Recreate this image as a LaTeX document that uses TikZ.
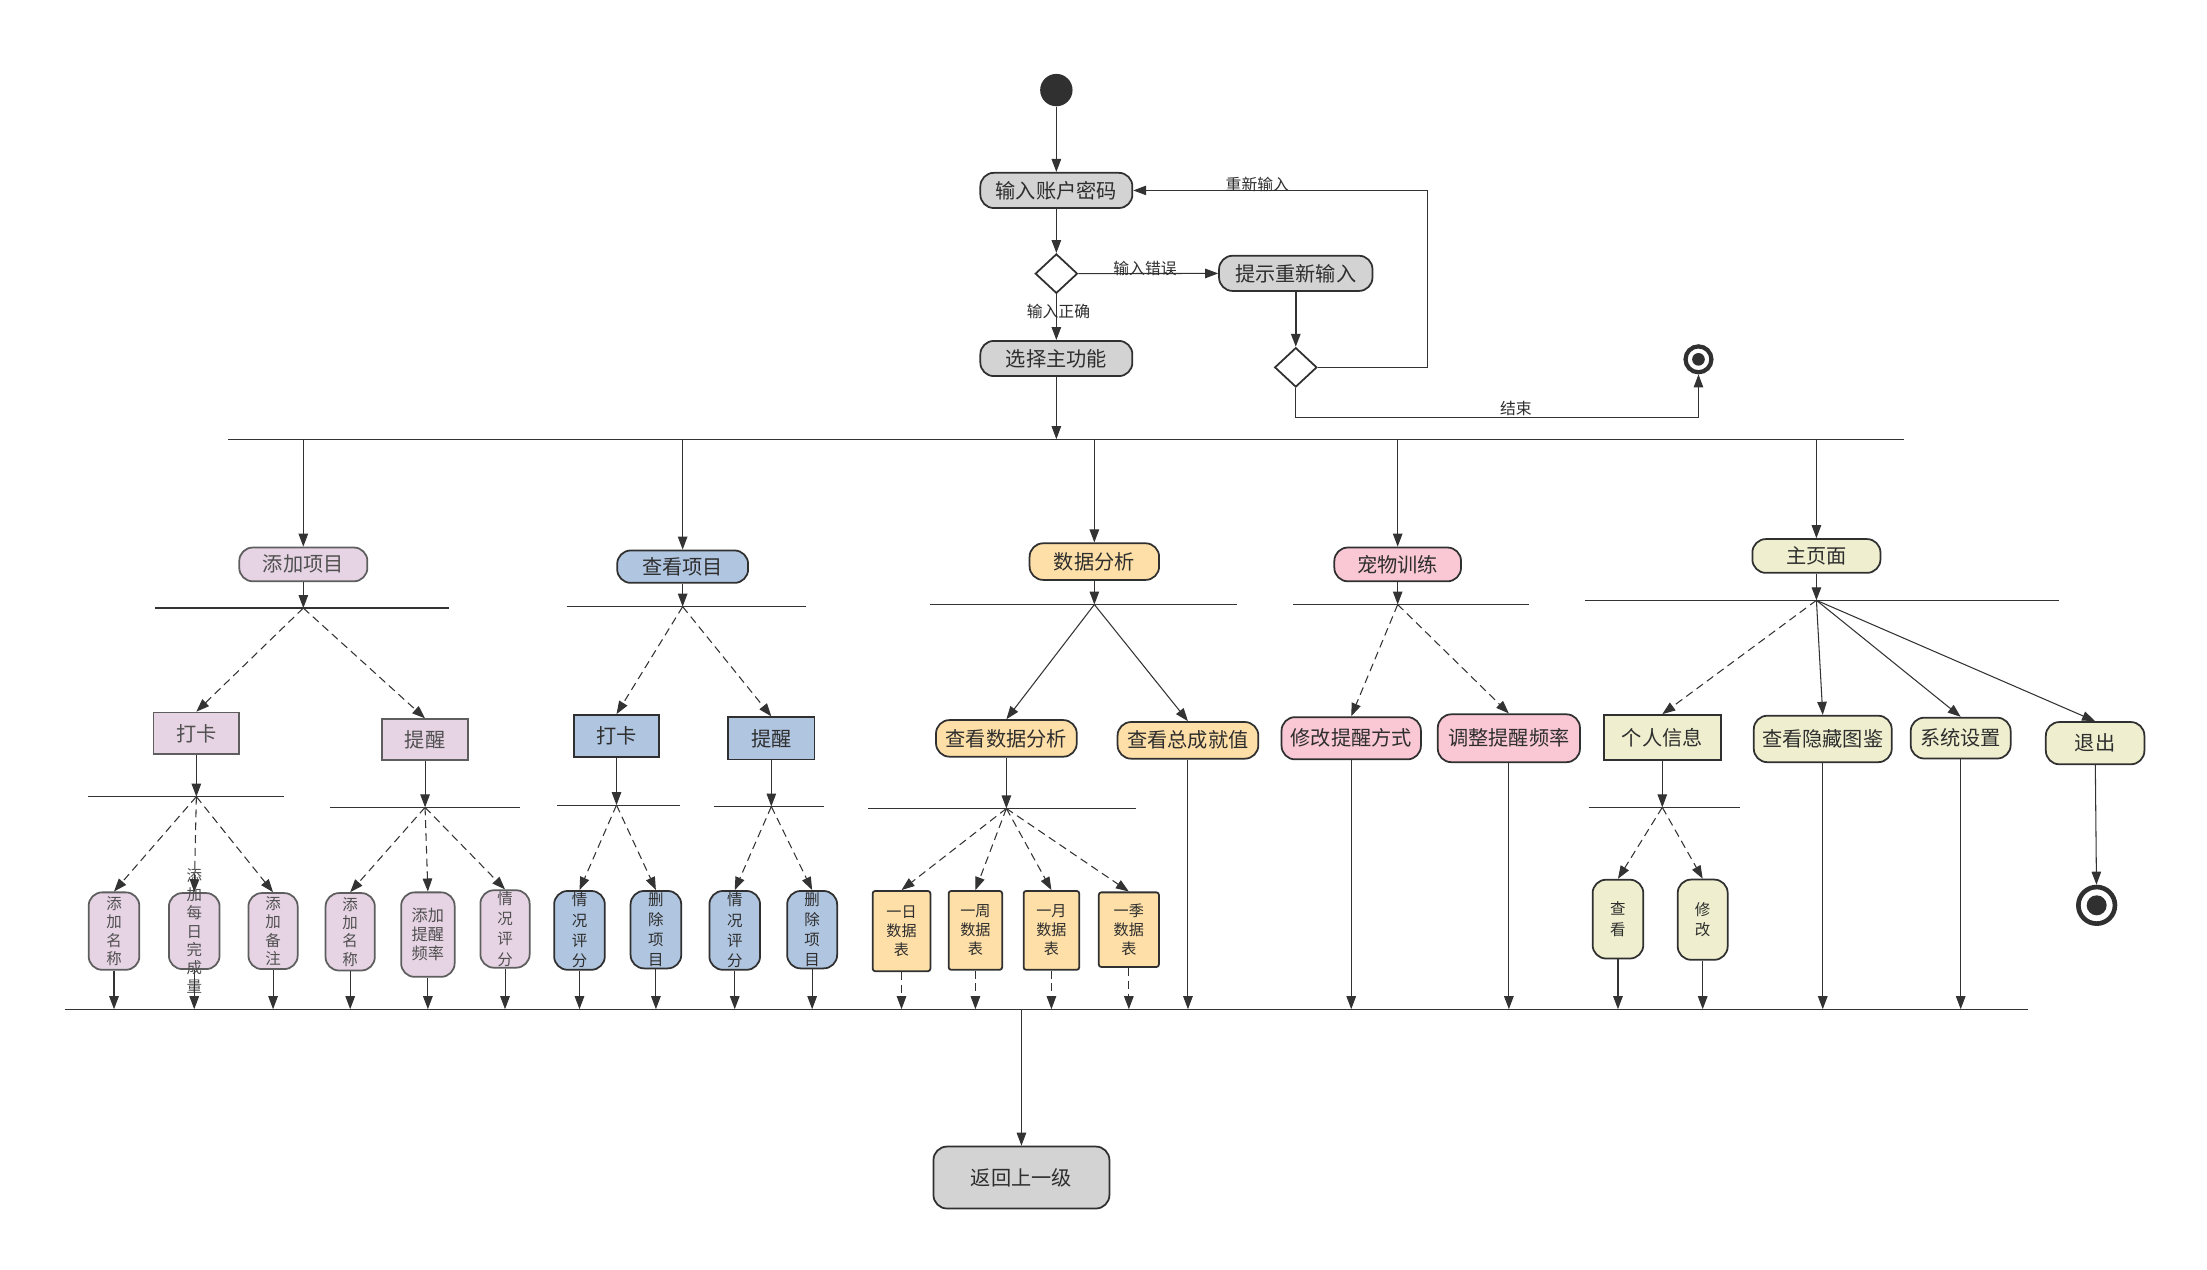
\documentclass[tikz,border=0pt]{standalone}
\usepackage{fontspec}
\setmainfont{Noto Sans CJK SC}
\usetikzlibrary{arrows.meta,shapes.geometric}
\definecolor{dk}{HTML}{303030}
\definecolor{ln}{HTML}{333333}
\definecolor{txt}{HTML}{2E2E2E}
\definecolor{txtl}{HTML}{505050}
\definecolor{grayf}{HTML}{D3D3D3}
\definecolor{lavf}{HTML}{E6D4E4}
\definecolor{lavd}{HTML}{5E5E5E}
\definecolor{bluef}{HTML}{B0C5E0}
\definecolor{orgf}{HTML}{FDDFA7}
\definecolor{pinkf}{HTML}{F9C8D4}
\definecolor{ygf}{HTML}{EFEFCF}
\newcommand\fA{\fontsize{11.5pt}{13pt}\selectfont}
\newcommand\fB{\fontsize{9pt}{10pt}\selectfont}
\newcommand\fV{\fontsize{8.8pt}{10.4pt}\selectfont}
\newcommand\fW{\fontsize{8.8pt}{11.5pt}\selectfont}
\newcommand\fT{\fontsize{8.6pt}{10.9pt}\selectfont}
\newcommand\fP{\fontsize{9.2pt}{11pt}\selectfont}
\begin{document}
\begin{tikzpicture}[x=0.02815cm,y=-0.02815cm,
  sz/.style 2 args={minimum width={#1*0.02815cm},minimum height={#2*0.02815cm}},
  base/.style={draw=dk,line width=1pt,text=txt,inner sep=0pt,align=center},
  pill/.style={base,rounded corners=0.27cm,font=\fA},
  rectbox/.style={base,font=\fA},
  leaf/.style={base,rounded corners=0.27cm,font=\fV},
  tbl/.style={base,rounded corners=0.05cm,font=\fT,fill=orgf},
  grayc/.style={fill=grayf},
  lav/.style={fill=lavf,draw=lavd,text=txtl},
  blu/.style={fill=bluef},
  org/.style={fill=orgf},
  pnk/.style={fill=pinkf},
  ygc/.style={fill=ygf},
  conn/.style={draw=ln,line width=0.6pt,-{Triangle[length=0.26cm,width=0.19cm]}},
  dconn/.style={conn,dash pattern=on 4.5pt off 2.8pt},
  bar/.style={draw=ln,line width=0.65pt},
  lbl/.style={font=\fB,text=txt,inner sep=0pt},
  dia/.style={diamond,draw=dk,fill=white,line width=1pt,inner sep=0pt,sz={30}{28}}
]
\path[use as bounding box,fill=white] (0,0) rectangle (1568,901.6);

% ---------- top part ----------
\node[circle,fill=dk,inner sep=0pt,minimum size={23*0.02815cm}] (start) at (750.5,64) {};
\node[pill,grayc,sz={108}{25}] (login) at (750.5,135.3) {输入账户密码};
\node[dia] (d1) at (750.5,194.4) {};
\node[pill,grayc,sz={109}{25}] (retry) at (920.6,194.2) {提示重新输入};
\node[pill,grayc,sz={108}{25}] (mainf) at (750.5,254.7) {选择主功能};
\node[dia] (d2) at (920.6,261) {};
\node[circle,draw=dk,line width={3*0.02815cm},inner sep=0pt,minimum size={18.4*0.02815cm}] (end1) at (1206.7,255.3) {};
\node[circle,fill=dk,inner sep=0pt,minimum size={9*0.02815cm}] (end1dot) at (end1.center) {};

\draw[conn] (start) -- (login);
\draw[conn] (login) -- (d1);
\draw[conn] (d1) -- (retry);
\node[lbl] (lerr) at (813.5,190.5) {输入错误};
\draw[conn] (d1) -- (mainf);
\node[lbl] (lok) at (752,221.5) {输入正确};
\draw[conn,line width=0.9pt] (retry) -- (d2);
\coordinate (loopc) at (1014.3,261);
\draw[conn] (d2.east) -- (loopc) |- (login.east);
\node[lbl] (lre) at (893.3,131.2) {重新输入};
\coordinate (endc) at (1206.7,296.5);
\draw[conn] (d2.south) |- (endc) -- (end1);
\node[lbl] (lend) at (1077,290.3) {结束};

% ---------- bar 1 ----------
\coordinate (bar1) at (750.5,312);
\draw[bar] (162,312) -- (1353,312);
\draw[conn] (mainf) -- (bar1);

\node[pill,lav,sz={91}{24}] (addp) at (215.5,401) {添加项目};
\node[pill,blu,sz={93}{23}] (viewp) at (485,402.6) {查看项目};
\node[pill,org,sz={92}{26}] (data) at (777.5,399) {数据分析};
\node[pill,pnk,sz={90}{24}] (pet) at (993,401) {宠物训练};
\node[pill,ygc,sz={91}{24}] (home) at (1290.5,395) {主页面};

\draw[conn] (addp |- bar1) -- (addp);
\draw[conn] (viewp |- bar1) -- (viewp);
\draw[conn] (data |- bar1) -- (data);
\draw[conn] (pet |- bar1) -- (pet);
\draw[conn] (home |- bar1) -- (home);

% ---------- second bars ----------
\coordinate (addpB) at (215.5,432);
\draw[bar] (110,432) -- (319,432);
\coordinate (viewpB) at (485,431);
\draw[bar] (402.6,431) -- (572.3,431);
\coordinate (dataB) at (777.5,429.5);
\draw[bar] (661,429.5) -- (879,429.5);
\coordinate (petB) at (993,429.5);
\draw[bar] (918.6,429.5) -- (1086,429.5);
\coordinate (homeB) at (1290.5,426.5);
\draw[bar] (1126,426.5) -- (1463,426.5);
\draw[conn] (addp) -- (addpB);
\draw[conn] (viewp) -- (viewpB);
\draw[conn] (data) -- (dataB);
\draw[conn] (pet) -- (petB);
\draw[conn] (home) -- (homeB);

% ---------- level 2 ----------
\node[rectbox,lav,sz={61}{29.5}] (dk1) at (139.5,521) {打卡};
\node[rectbox,lav,sz={61}{29}] (tx1) at (302,525.5) {提醒};
\node[rectbox,blu,sz={60.5}{30}] (dk2) at (438,523) {打卡};
\node[rectbox,blu,sz={61.5}{30}] (tx2) at (548,524.6) {提醒};
\node[pill,org,sz={100}{26}] (vda) at (715,524.6) {查看数据分析};
\node[pill,org,sz={100}{26}] (vach) at (844,526) {查看总成就值};
\node[pill,pnk,sz={99}{30}] (mrm) at (960,524.5) {修改提醒方式};
\node[pill,pnk,sz={101}{34}] (arf) at (1072,524.5) {调整提醒频率};
\node[rectbox,ygc,sz={83}{32}] (info) at (1181,524) {个人信息};
\node[pill,ygc,sz={98}{33}] (hid) at (1295,525) {查看隐藏图鉴};
\node[pill,ygc,sz={71}{29}] (sys) at (1393,524.4) {系统设置};
\node[pill,ygc,sz={70}{30}] (quit) at (1488.5,528) {退出};

\draw[dconn] (addpB) -- (dk1.north);
\draw[dconn] (addpB) -- (tx1.north);
\draw[dconn] (viewpB) -- (dk2.north);
\draw[dconn] (viewpB) -- (tx2.north);
\draw[conn] (dataB) -- (vda.north);
\draw[conn] (dataB) -- (vach.north);
\draw[dconn] (petB) -- (mrm.north);
\draw[dconn] (petB) -- (arf.north);
\draw[dconn] (homeB) -- (info.north);
\draw[conn] (homeB) -- (hid.north);
\draw[conn] (homeB) -- (sys.north);
\draw[conn] (homeB) -- (quit.north);

% ---------- third bars ----------
\coordinate (dk1B) at (139.5,566);
\draw[bar] (62.6,566) -- (202,566);
\coordinate (tx1B) at (302,573.6);
\draw[bar] (234.5,573.6) -- (369.3,573.6);
\coordinate (dk2B) at (438,572);
\draw[bar] (396,572) -- (483,572);
\coordinate (tx2B) at (548,573);
\draw[bar] (507,573) -- (585.5,573);
\coordinate (vdaB) at (715,574.4);
\draw[bar] (616.7,574.4) -- (807,574.4);
\coordinate (infoB) at (1181,573.6);
\draw[bar] (1128.7,573.6) -- (1236,573.6);
\draw[conn] (dk1) -- (dk1B);
\draw[conn] (tx1) -- (tx1B);
\draw[conn] (dk2) -- (dk2B);
\draw[conn] (tx2) -- (tx2B);
\draw[conn] (vda) -- (vdaB);
\draw[conn] (info) -- (infoB);

% ---------- leaves ----------
\node[leaf,lav,sz={36}{55}] (l1) at (81,661.5) {添\\加\\名\\称};
\node[leaf,lav,sz={36}{54}] (l2) at (138,661.5) {};
\node[font=\fontsize{8.8pt}{10.5pt}\selectfont,text=txtl,align=center,inner sep=0pt] (l2t) at (l2.center) {添\\加\\每\\日\\完\\成\\量};
\node[leaf,lav,sz={35}{54}] (l3) at (194,661.5) {添\\加\\备\\注};
\node[leaf,lav,sz={35}{55}] (l4) at (248.8,662) {添\\加\\名\\称};
\node[leaf,lav,sz={38}{60},font=\fP] (l5) at (304,664) {添加\\提醒\\频率};
\node[leaf,lav,sz={35}{55},font=\fW] (l6) at (358.8,660) {情\\况\\评\\分};
\node[leaf,blu,sz={36}{56},font=\fW] (l7) at (411.7,661) {情\\况\\评\\分};
\node[leaf,blu,sz={36}{55},font=\fW] (l8) at (466,660.5) {删\\除\\项\\目};
\node[leaf,blu,sz={36}{56},font=\fW] (l9) at (522,661) {情\\况\\评\\分};
\node[leaf,blu,sz={35.5}{55},font=\fW] (l10) at (577,660.5) {删\\除\\项\\目};
\node[tbl,sz={41}{57}] (t1) at (640.5,661.5) {一日\\数据\\表};
\node[tbl,sz={38}{56}] (t2) at (693,661) {一周\\数据\\表};
\node[tbl,sz={39.5}{56}] (t3) at (747,661) {一月\\数据\\表};
\node[tbl,sz={42.7}{53}] (t4) at (802,660.5) {一季\\数据\\表};
\node[leaf,ygc,sz={36}{56},font=\fW] (q1) at (1149.5,653) {查\\看};
\node[leaf,ygc,sz={35.5}{57},font=\fW] (q2) at (1209.7,653.4) {修\\改};

\draw[dconn] (dk1B) -- (l1.north);
\draw[dconn] (dk1B) -- (l2.north);
\draw[dconn] (dk1B) -- (l3.north);
\draw[dconn] (tx1B) -- (l4.north);
\draw[dconn] (tx1B) -- (l5.north);
\draw[dconn] (tx1B) -- (l6.north);
\draw[dconn] (dk2B) -- (l7.north);
\draw[dconn] (dk2B) -- (l8.north);
\draw[dconn] (tx2B) -- (l9.north);
\draw[dconn] (tx2B) -- (l10.north);
\draw[dconn] (vdaB) -- (t1.north);
\draw[dconn] (vdaB) -- (t2.north);
\draw[dconn] (vdaB) -- (t3.north);
\draw[dconn] (vdaB) -- (t4.north);
\draw[dconn] (infoB) -- (q1.north);
\draw[dconn] (infoB) -- (q2.north);

% ---------- bottom bar ----------
\coordinate (bot) at (725.7,717);
\draw[bar] (46,717) -- (1441,717);
\foreach \n in {l1,l2,l3,l4,l5,l6,l7,l8,l9,l10,q1,q2,vach,mrm,arf,hid,sys}
  \draw[conn] (\n.south) -- (\n |- bot);
\foreach \n in {t1,t2,t3,t4}
  \draw[dconn] (\n.south) -- (\n |- bot);

\node[circle,draw=dk,line width={3.3*0.02815cm},inner sep=0pt,minimum size={26*0.02815cm}] (end2) at (1489.6,643.2) {};
\node[circle,fill=dk,inner sep=0pt,minimum size={14.2*0.02815cm}] (end2dot) at (end2.center) {};
\draw[conn] (quit) -- (end2);

\node[base,grayc,rounded corners=0.27cm,font=\fA,sz={125}{44}] (back) at (725.7,836.6) {返回上一级};
\draw[conn] (bot) -- (back);
\end{tikzpicture}
\end{document}
